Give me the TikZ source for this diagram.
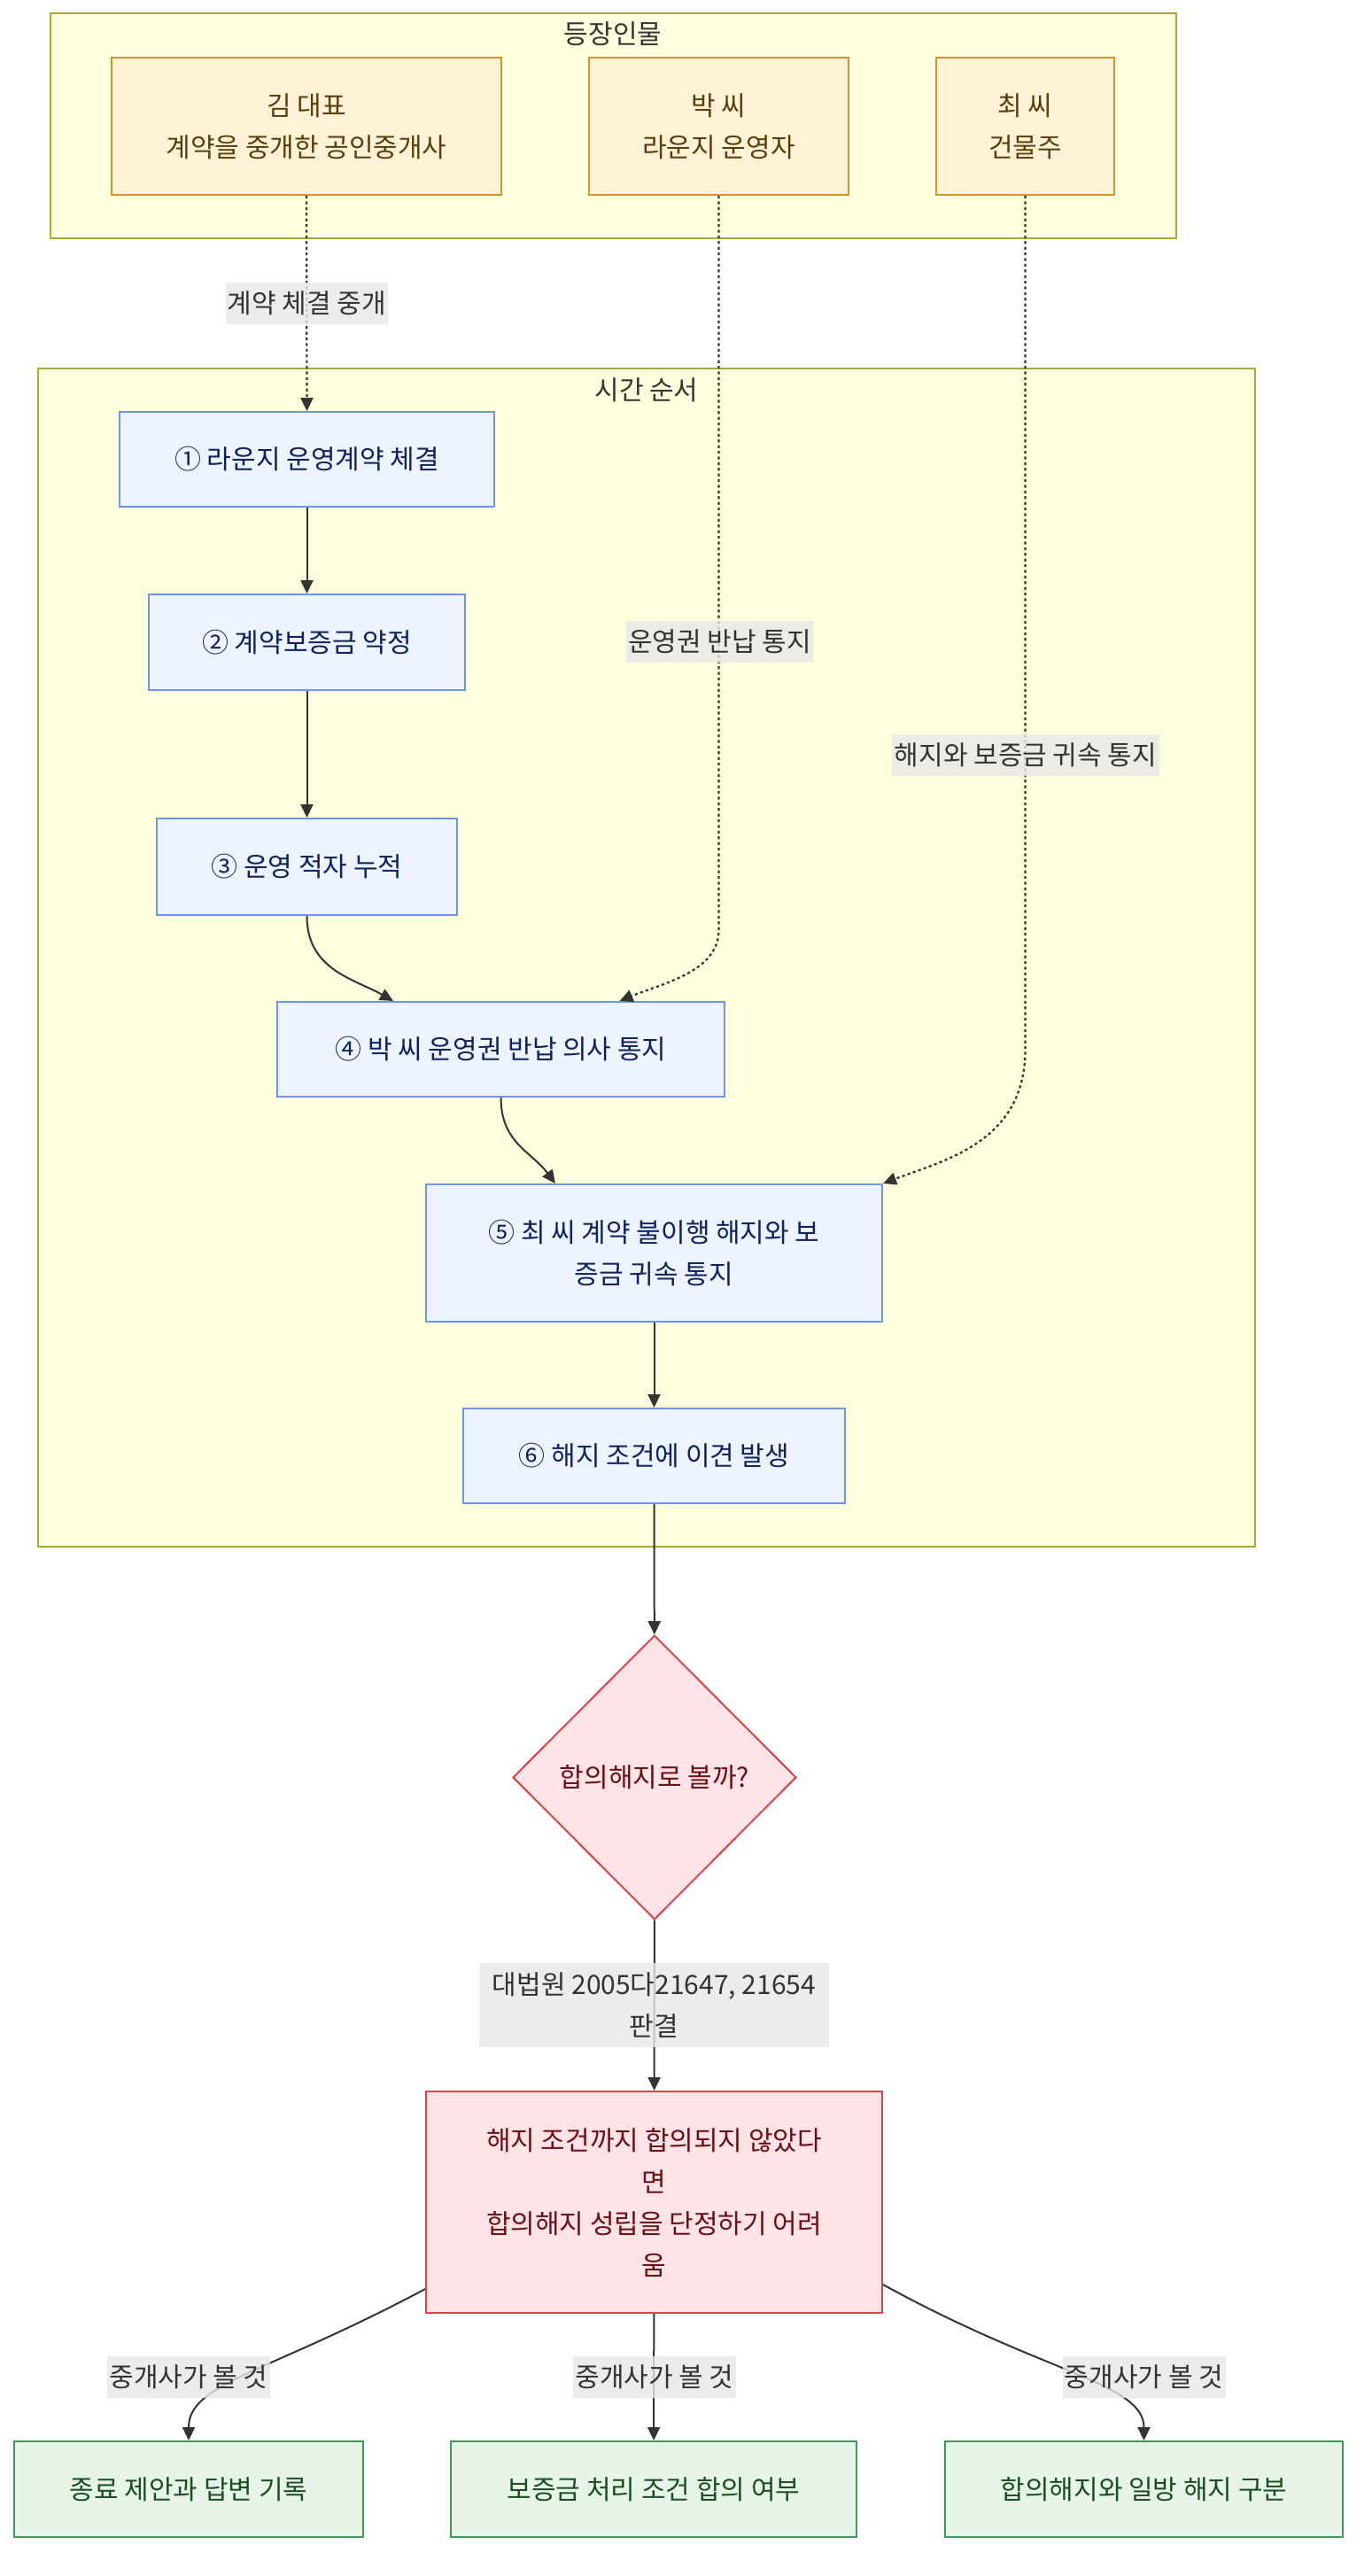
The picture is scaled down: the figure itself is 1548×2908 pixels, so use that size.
\documentclass[tikz,border=0pt]{standalone}
\usepackage{fontspec}
\setmainfont{Noto Sans CJK KR}
\usetikzlibrary{shapes.geometric,arrows.meta,calc}
\definecolor{frameFill}{HTML}{FFFFDE}
\definecolor{frameDraw}{HTML}{AAAA33}
\definecolor{actorFill}{HTML}{FFF2D6}
\definecolor{actorDraw}{HTML}{D4962A}
\definecolor{actorText}{HTML}{5A3E0A}
\definecolor{blueFill}{HTML}{EDF3FF}
\definecolor{blueDraw}{HTML}{7095E3}
\definecolor{blueText}{HTML}{0F2260}
\definecolor{redFill}{HTML}{FFE3E6}
\definecolor{redDraw}{HTML}{D9434B}
\definecolor{redText}{HTML}{6B0F14}
\definecolor{greenFill}{HTML}{E7F5E9}
\definecolor{greenDraw}{HTML}{3E9B57}
\definecolor{greenText}{HTML}{1B4D22}
\definecolor{labFill}{HTML}{E8E8E8}
\definecolor{inkc}{HTML}{333333}
\tikzset{
  txt/.style={font=\fontsize{15}{23.5}\selectfont, align=center},
  boxbase/.style={txt, rectangle, line width=1pt, inner sep=0pt},
  actorbox/.style={boxbase, fill=actorFill, draw=actorDraw, text=actorText, minimum height=77.5pt},
  stepbox/.style={boxbase, fill=blueFill, draw=blueDraw, text=blueText},
  redbox/.style={boxbase, fill=redFill, draw=redDraw, text=redText},
  greenbox/.style={boxbase, fill=greenFill, draw=greenDraw, text=greenText, minimum height=54pt},
  framebox/.style={fill=frameFill, draw=frameDraw, line width=1pt},
  frametitle/.style={txt, text=inkc},
  edgelab/.style={txt, fill=labFill, fill opacity=0.8, text opacity=1, text=inkc, inner sep=0pt, minimum height=23.5pt},
  solidline/.style={draw=inkc, line width=1pt, -{Triangle[length=7.5pt,width=7pt]}},
  dotline/.style={draw=inkc, line width=1.1pt, dash pattern=on 1.6pt off 1.6pt, -{Triangle[length=7.5pt,width=7pt]}}
}
\begin{document}
\begin{tikzpicture}[x=0.5pt,y=-0.5pt]
\useasboundingbox[fill=white] (0,0) rectangle (1548,2908);
% frames
\draw[framebox] (57,15) rectangle (1328,269);
\node[frametitle] (t1) at (692,38) {등장인물};
\draw[framebox] (43,416) rectangle (1417,1746);
\node[frametitle] (t2) at (730,440) {시간 순서};
% actors
\node[actorbox, minimum width=220pt] (kim) at (346,142.5) {김 대표\\계약을 중개한 공인중개사};
\node[actorbox, minimum width=146.5pt] (park) at (811.5,142.5) {박 씨\\라운지 운영자};
\node[actorbox, minimum width=100.5pt] (choi) at (1157.5,142.5) {최 씨\\건물주};
% steps
\node[stepbox, minimum width=211.5pt, minimum height=53.5pt] (b1) at (346.5,518.5) {① 라운지 운영계약 체결};
\node[stepbox, minimum width=178.5pt, minimum height=54pt] (b2) at (346.5,725) {② 계약보증금 약정};
\node[stepbox, minimum width=169.5pt, minimum height=54.5pt] (b3) at (346.5,978.5) {③ 운영 적자 누적};
\node[stepbox, minimum width=252.5pt, minimum height=53.5pt] (b4) at (565.5,1184.5) {④ 박 씨 운영권 반납 의사 통지};
\node[stepbox, minimum width=257.5pt, minimum height=77.5pt] (b5) at (738.5,1414.5) {⑤ 최 씨 계약 불이행 해지와 보\\증금 귀속 통지};
\node[stepbox, minimum width=215.5pt, minimum height=53.5pt] (b6) at (738.5,1643.5) {⑥ 해지 조건에 이견 발생};
% decision
\node[txt, diamond, aspect=1, fill=redFill, draw=redDraw, text=redText, line width=1pt, inner sep=0pt, minimum width=160pt, minimum height=160.5pt] (dec) at (739,2006.5) {합의해지로 볼까?};
\node[redbox, minimum width=257.5pt, minimum height=125pt] (res) at (738.5,2486) {해지 조건까지 합의되지 않았다\\면\\합의해지 성립을 단정하기 어려\\움};
% outcomes
\node[greenbox, minimum width=197pt] (g1) at (213,2810) {종료 제안과 답변 기록};
\node[greenbox, minimum width=229pt] (g2) at (738,2810) {보증금 처리 조건 합의 여부};
\node[greenbox, minimum width=224.5pt] (g3) at (1291.5,2810) {합의해지와 일방 해지 구분};
% connectors
\draw[dotline] (kim.south) -- (b1.north);
\draw[dotline] (park.south) -- (811.5,1050) .. controls (811.5,1097) and (748,1110) .. ([xshift=67pt]b4.north);
\draw[dotline] (choi.south) -- (1157.5,1185) .. controls (1157.5,1290) and (1065,1310) .. (b5.north east);
\draw[solidline] (b1) -- (b2);
\draw[solidline] (b2) -- (b3);
\draw[solidline] (b3.south) .. controls (346.5,1095) and (400,1105) .. ([xshift=-60.75pt]b4.north);
\draw[solidline] (b4.south) .. controls (565.5,1290) and (600,1300) .. ([xshift=-55.75pt]b5.north);
\draw[solidline] (b5) -- (b6);
\draw[solidline] (b6) -- (dec);
\draw[solidline] (dec) -- (res);
\draw[solidline] ([yshift=14pt]res.south west) .. controls (300,2680) and (213,2690) .. (g1.north);
\draw[solidline] (res) -- (g2);
\draw[solidline] ([yshift=16.5pt]res.south east) .. controls (1180,2680) and (1291.5,2690) .. (g3.north);
% edge labels
\node[edgelab, minimum width=91.5pt] (l1) at (346.5,342.5) {계약 체결 중개};
\node[edgelab, minimum width=105.5pt] (l2) at (812.5,724.5) {운영권 반납 통지};
\node[edgelab, minimum width=151pt] (l3) at (1158,852.5) {해지와 보증금 귀속 통지};
\node[edgelab, minimum width=197.5pt, minimum height=47.5pt] (l4) at (738.5,2263.5) {대법원 2005다21647, 21654\\판결};
\node[edgelab, minimum width=92pt] (l5) at (213,2683.5) {중개사가 볼 것};
\node[edgelab, minimum width=92pt] (l6) at (739,2683.5) {중개사가 볼 것};
\node[edgelab, minimum width=92pt] (l7) at (1291.5,2683.5) {중개사가 볼 것};
\end{tikzpicture}
\end{document}
